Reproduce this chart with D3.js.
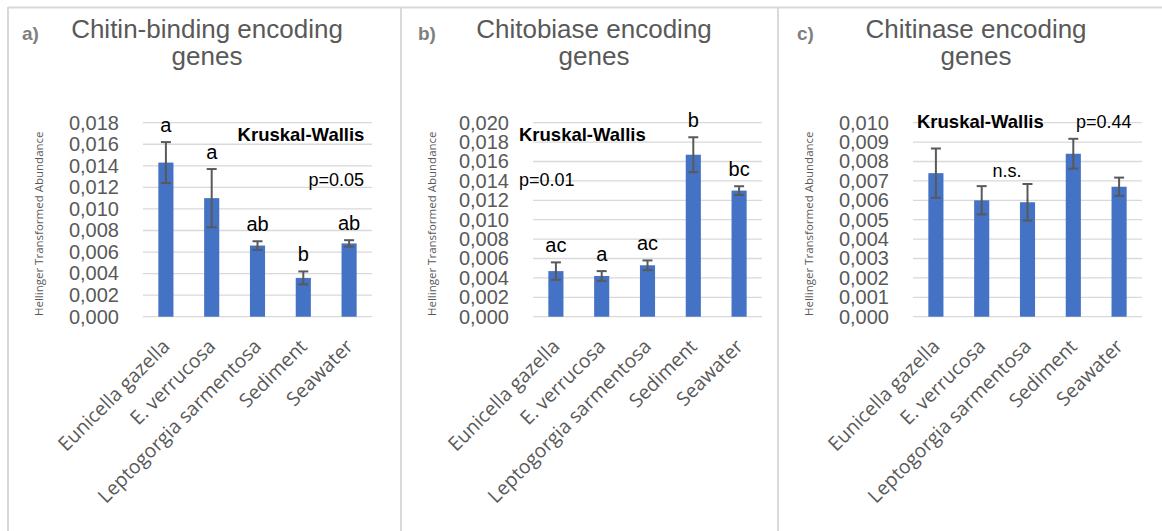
<!DOCTYPE html>
<html>
<head>
<meta charset="utf-8">
<script src="https://cdn.jsdelivr.net/npm/d3@7"></script>
<style>
  body { margin: 0; background: #fff; }
  svg { display: block; }
</style>
</head>
<body>
<div id="chart"></div>
<script>
// categories shared by all three panels
const categories = ['Eunicella gazella', 'E. verrucosa', 'Leptogorgia sarmentosa', 'Sediment', 'Seawater'];

// a) chitin-binding
const chitinBindingMean = [0.0143, 0.0110, 0.0066, 0.0036, 0.0068];
const chitinBindingErr = [0.0019, 0.0027, 0.0004, 0.0006, 0.0003];
const chitinBindingLetters = ['a', 'a', 'ab', 'b', 'ab'];
const chitinBindingTicks = [0, 0.002, 0.004, 0.006, 0.008, 0.010, 0.012, 0.014, 0.016, 0.018];

// b) chitobiase
const chitobiaseMean = [0.0047, 0.0042, 0.0053, 0.0167, 0.0130];
const chitobiaseErr = [0.0009, 0.0005, 0.0005, 0.0018, 0.00045];
const chitobiaseLetters = ['ac', 'a', 'ac', 'b', 'bc'];
const chitobiaseTicks = [0, 0.002, 0.004, 0.006, 0.008, 0.010, 0.012, 0.014, 0.016, 0.018, 0.020];

// c) chitinase
const chitinaseMean = [0.0074, 0.0060, 0.0059, 0.0084, 0.0067];
const chitinaseErr = [0.00127, 0.00073, 0.00094, 0.00077, 0.00047];
const chitinaseLetters = ['', '', '', '', ''];
const chitinaseTicks = [0, 0.001, 0.002, 0.003, 0.004, 0.005, 0.006, 0.007, 0.008, 0.009, 0.010];

const W = 1162, H = 531;
const arial = '"Liberation Sans", Arial, sans-serif';
const sans = '"Open Sans", "Noto Sans", sans-serif';
const grey = '#595959';

const svg = d3.select('#chart').append('svg').attr('width', W).attr('height', H);

// comma decimal like the original
const fmt = (d) => d3.format('.3f')(d).replace('.', ',');

// panel frame lines
svg.append('line').attr('x1', 8).attr('x2', W).attr('y1', 7.5).attr('y2', 7.5)
  .attr('stroke', '#d9d9d9').attr('stroke-width', 2);
[8, 401, 778].forEach((x) => {
  svg.append('line').attr('x1', x).attr('x2', x).attr('y1', 7).attr('y2', H)
    .attr('stroke', '#d9d9d9').attr('stroke-width', 2);
});

const panels = [
  {
    tag: 'a)', title: ['Chitin-binding encoding', 'genes'], left: 8, plotLeft: 143, titleX: 207, tagX: 22,
    mean: chitinBindingMean, err: chitinBindingErr, letters: chitinBindingLetters, ticks: chitinBindingTicks,
    notes: [
      { text: 'Kruskal-Wallis', x: 301, y: 141, bold: true, anchor: 'middle' },
      { text: 'p=0.05', x: 364, y: 186, anchor: 'end' }
    ]
  },
  {
    tag: 'b)', title: ['Chitobiase encoding', 'genes'], left: 401, plotLeft: 533, titleX: 594, tagX: 418,
    mean: chitobiaseMean, err: chitobiaseErr, letters: chitobiaseLetters, ticks: chitobiaseTicks,
    notes: [
      { text: 'Kruskal-Wallis', x: 519, y: 141, bold: true, anchor: 'start' },
      { text: 'p=0.01', x: 519, y: 186, anchor: 'start' }
    ]
  },
  {
    tag: 'c)', title: ['Chitinase encoding', 'genes'], left: 778, plotLeft: 913, titleX: 976, tagX: 797,
    mean: chitinaseMean, err: chitinaseErr, letters: chitinaseLetters, ticks: chitinaseTicks,
    notes: [
      { text: 'Kruskal-Wallis', x: 917, y: 128, bold: true, anchor: 'start' },
      { text: 'p=0.44', x: 1076, y: 128, anchor: 'start' },
      { text: 'n.s.', x: 1007, y: 177, anchor: 'middle' }
    ]
  }
];

const plotW = 229, plotTop = 122.7, plotBottom = 316.7;

panels.forEach((p) => {
  const g = svg.append('g');

  // titles
  g.append('text').attr('x', p.tagX).attr('y', 40)
    .style('font-family', arial).style('font-weight', 'bold').style('font-size', '19px')
    .style('fill', '#7f7f7f').text(p.tag);
  g.selectAll(null).data(p.title).join('text')
    .attr('x', p.titleX).attr('y', (d, i) => 38 + i * 27)
    .attr('text-anchor', 'middle')
    .style('font-family', arial).style('font-size', '26px').style('fill', grey)
    .text((d) => d);

  const x = d3.scaleBand().domain(categories)
    .range([p.plotLeft, p.plotLeft + plotW]).paddingInner(0.67).paddingOuter(0.335);
  const y = d3.scaleLinear().domain([0, d3.max(p.ticks)]).range([plotBottom, plotTop]);

  // gridlines
  g.selectAll(null).data(p.ticks).join('line')
    .attr('x1', p.plotLeft).attr('x2', p.plotLeft + plotW)
    .attr('y1', (d) => y(d)).attr('y2', (d) => y(d))
    .attr('stroke', '#d9d9d9').attr('stroke-width', 1.3);

  // y axis ticks, no domain line
  g.append('g').attr('transform', `translate(${p.plotLeft},0)`)
    .call(d3.axisLeft(y).tickValues(p.ticks).tickFormat(fmt).tickSize(0).tickPadding(24))
    .call((a) => a.select('.domain').remove())
    .selectAll('text')
    .style('font-family', arial).style('font-size', '20px').style('fill', grey);

  // y axis title
  g.append('text')
    .attr('transform', `translate(${p.left + 31},${(plotTop + plotBottom) / 2 + 4}) rotate(-90)`)
    .attr('text-anchor', 'middle').attr('dy', '0.35em')
    .style('font-family', sans).style('font-size', '11.5px').style('fill', grey)
    .text('Hellinger Transformed Abundance');

  const rows = categories.map((c, i) => ({ c, v: p.mean[i], e: p.err[i], l: p.letters[i] }));

  // bars
  g.selectAll(null).data(rows).join('rect')
    .attr('x', (d) => x(d.c)).attr('width', x.bandwidth())
    .attr('y', (d) => y(d.v)).attr('height', (d) => plotBottom - y(d.v))
    .attr('fill', '#4472c4');

  // error bars
  const cx = (d) => x(d.c) + x.bandwidth() / 2;
  g.selectAll(null).data(rows).join('line')
    .attr('x1', cx).attr('x2', cx)
    .attr('y1', (d) => y(d.v + d.e)).attr('y2', (d) => y(d.v - d.e))
    .attr('stroke', grey).attr('stroke-width', 2);
  [1, -1].forEach((s) => {
    g.selectAll(null).data(rows).join('line')
      .attr('x1', (d) => cx(d) - 5).attr('x2', (d) => cx(d) + 5)
      .attr('y1', (d) => y(d.v + s * d.e))
      .attr('y2', (d) => y(d.v + s * d.e))
      .attr('stroke', grey).attr('stroke-width', 2);
  });

  // significance letters
  g.selectAll(null).data(rows).join('text')
    .attr('x', cx).attr('y', (d) => y(d.v + d.e) - 10)
    .attr('text-anchor', 'middle')
    .style('font-family', arial).style('font-size', '20px').style('fill', '#000')
    .text((d) => d.l);

  // x labels
  g.selectAll(null).data(categories).join('text')
    .attr('transform', (d) => `translate(${x(d) + x.bandwidth() / 2 + 5},${plotBottom + 31}) rotate(-45)`)
    .attr('text-anchor', 'end')
    .style('font-family', sans).style('font-size', '19.5px').style('fill', grey)
    .text((d) => d);

  // test annotations
  g.selectAll(null).data(p.notes).join('text')
    .attr('x', (d) => d.x).attr('y', (d) => d.y)
    .attr('text-anchor', (d) => d.anchor)
    .style('font-family', arial)
    .style('font-weight', (d) => (d.bold ? 'bold' : 'normal'))
    .style('font-size', (d) => (d.bold ? '18.5px' : '18px'))
    .style('fill', '#000')
    .text((d) => d.text);
});
</script>
</body>
</html>
